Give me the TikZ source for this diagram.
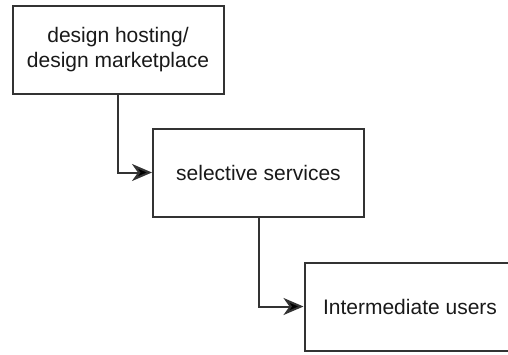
\documentclass[tikz,border=0pt]{standalone}
\usepackage{fontspec}
\setmainfont{Liberation Sans}
\usepackage{tikz}
\usetikzlibrary{arrows.meta,positioning}
\definecolor{linegray}{HTML}{333333}

\begin{document}
\begin{tikzpicture}[x=1pt,y=-1pt,
  box/.style={draw=linegray, line width=2pt, minimum width=211pt, minimum height=88pt,
              align=center, text=black!90, font=\fontsize{21}{25}\selectfont},
  link/.style={draw=linegray, line width=2pt, -{Stealth[length=20pt,width=17pt,inset=6pt,fill=black]}}]
  \useasboundingbox (0,0) rectangle (508,354);
  \node[box] (host) at (118,49.5) {design hosting/\\design marketplace};
  \node[box] (serv) at (258.5,172.5) {selective services};
  \node[box] (users) at (410,306.5) {Intermediate users};

  \draw[link] (host.south) |- (serv.west);
  \draw[link] (serv.south) |- (users.west);
\end{tikzpicture}
\end{document}
